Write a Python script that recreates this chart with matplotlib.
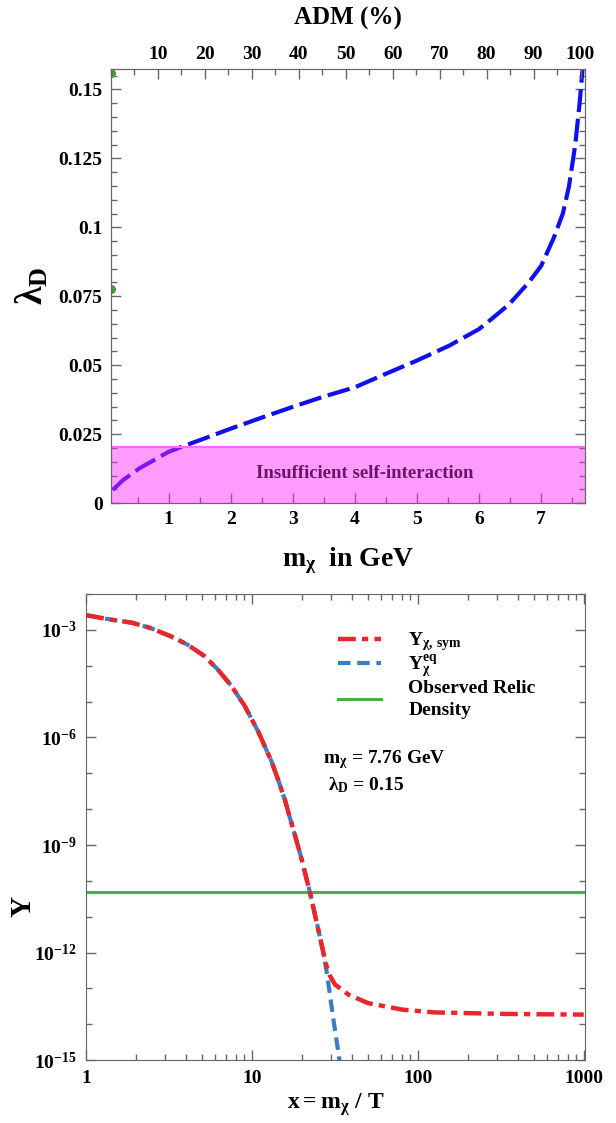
import numpy as np
import matplotlib.pyplot as plt
from matplotlib.ticker import FixedLocator, MultipleLocator, NullFormatter, LogLocator, FixedFormatter

plt.rcParams['font.family'] = ['Liberation Serif', 'DejaVu Serif']
plt.rcParams['font.weight'] = 'bold'
plt.rcParams['mathtext.fontset'] = 'custom'
plt.rcParams['mathtext.rm'] = 'Liberation Serif:bold'
plt.rcParams['mathtext.it'] = 'Liberation Serif:bold'
plt.rcParams['mathtext.bf'] = 'Liberation Serif:bold'

# ---- top panel: lambda_D vs m_chi ----
m_chi = [0.10, 0.27, 0.53, 1.0, 1.28, 1.5, 2.0, 2.5, 3.0, 3.48, 4.0, 4.5, 5.0,
         5.52, 6.0, 6.16, 6.48, 6.8, 7.0, 7.2, 7.35, 7.45, 7.55, 7.62, 7.67]
lam_d = [0.0048, 0.0084, 0.0126, 0.0186, 0.021, 0.0228, 0.027, 0.031, 0.0349,
         0.0385, 0.042, 0.0469, 0.0517, 0.0571, 0.0631, 0.066, 0.072, 0.080,
         0.086, 0.096, 0.105, 0.115, 0.130, 0.145, 0.158]
band_top = 0.0205
green_lam = [0.1558, 0.0778]
adm_ticks = [10, 20, 30, 40, 50, 60, 70, 80, 90, 100]
lam_ticks = [0, 0.025, 0.05, 0.075, 0.1, 0.125, 0.15]
lam_labels = ['0', '0.025', '0.05', '0.075', '0.1', '0.125', '0.15']

# ---- bottom panel: Y vs x ----
x_sym = [1.0, 1.4, 1.89, 2.45, 3.24, 4.08, 5.16, 6.2, 7.5, 9.0, 10.9, 13.1, 14.4,
         15.8, 16.8, 17.7, 19.9, 22.3, 24.5, 26.9, 28.2, 29.5, 31.6, 38, 50, 80,
         126, 203, 324, 500, 1000]
logY_sym = [-2.59, -2.71, -2.80, -2.95, -3.18, -3.41, -3.73, -4.10, -4.56, -5.11,
            -5.84, -6.67, -7.20, -7.75, -8.20, -8.55, -9.40, -10.31, -11.15,
            -12.0, -12.40, -12.65, -12.89, -13.17, -13.41, -13.59, -13.67,
            -13.69, -13.71, -13.72, -13.73]
x_eq = [1.0, 1.4, 1.89, 2.45, 3.24, 4.08, 5.16, 6.2, 7.5, 9.0, 10.9, 13.1, 14.4,
        15.8, 16.8, 17.7, 19.9, 22.3, 24.5, 26.9, 28.2, 30.9, 33.4, 35.0]
logY_eq = [-2.59, -2.71, -2.80, -2.95, -3.18, -3.41, -3.73, -4.10, -4.56, -5.11,
           -5.84, -6.67, -7.20, -7.75, -8.20, -8.55, -9.40, -10.31, -11.15,
           -12.0, -12.55, -13.85, -14.90, -15.6]
relic_Y = 4.9e-11
y_ticks = [1e-15, 1e-12, 1e-9, 1e-6, 1e-3]
y_labels = [r'$10^{-15}$', r'$10^{-12}$', r'$10^{-9}$', r'$10^{-6}$', r'$10^{-3}$']
x_ticks = [1, 10, 100, 1000]

spine_col = '#666666'

fig = plt.figure(figsize=(6.16, 11.23), dpi=100)

# top panel
ax1 = fig.add_axes([0.180, 0.552, 0.770, 0.387])
ax1.plot(m_chi, lam_d, color='#1010ee', lw=3.0, dashes=(5.5, 1.6),
         solid_capstyle='butt', zorder=2)
ax1.axhspan(0, band_top, color='#ff22ff', alpha=0.45, lw=0, zorder=3)
ax1.axhline(band_top, color='#ff66ff', lw=1.5, zorder=3)
ax1.text(4.16, 0.0109, 'Insufficient self-interaction', color='#6a1466',
         fontsize=13.5, fontweight='bold', ha='center', va='center', zorder=4)
ax1.scatter([0.07, 0.07], green_lam, s=30, color='#3f9b3f', zorder=5, clip_on=True)
ax1.set_xlim(0.07, 7.71)
ax1.set_ylim(0, 0.1576)
ax1.xaxis.set_major_locator(FixedLocator([1, 2, 3, 4, 5, 6, 7]))
ax1.xaxis.set_minor_locator(MultipleLocator(0.5))
ax1.yaxis.set_major_locator(FixedLocator(lam_ticks))
ax1.yaxis.set_major_formatter(FixedFormatter(lam_labels))
ax1.yaxis.set_minor_locator(MultipleLocator(0.005))
ax1.tick_params(which='both', direction='in', right=True, top=False,
                labelsize=14, color=spine_col, pad=6)
ax1.tick_params(which='major', length=7, width=1)
ax1.tick_params(which='minor', length=4, width=1)
ax1.set_xlabel(r'$\mathbf{m_{\chi}}$  in GeV', fontsize=20, fontweight='bold', labelpad=12)
ax1.set_ylabel(r'$\mathbf{\lambda_{D}}$', fontsize=27, labelpad=6)
for s in ax1.spines.values():
    s.set_color(spine_col)

ax1t = ax1.twiny()
ax1t.set_xlim(0, 101)
ax1t.xaxis.set_major_locator(FixedLocator(adm_ticks))
ax1t.xaxis.set_minor_locator(MultipleLocator(5))
ax1t.tick_params(which='both', direction='in', labelsize=14, color=spine_col, pad=4)
ax1t.tick_params(which='major', length=7, width=1)
ax1t.tick_params(which='minor', length=4, width=1)
for s in ax1t.spines.values():
    s.set_color(spine_col)
fig.text(0.565, 0.984, 'ADM (%)', fontsize=18, fontweight='bold', ha='center', va='center')

# bottom panel
ax2 = fig.add_axes([0.140, 0.056, 0.810, 0.415])
ax2.plot(x_eq, 10 ** np.array(logY_eq), color='#3a7fc2', lw=3.0, dashes=(3.0, 1.6),
         label=r'$\mathbf{Y_{\chi}^{eq}}$', zorder=2)
ax2.plot(x_sym, 10 ** np.array(logY_sym), color='#e8262b', lw=3.2,
         dashes=(4.0, 1.4, 1.4, 1.4), label=r'$\mathbf{Y_{\chi,\,sym}}$', zorder=3)
ax2.axhline(relic_Y, color='#4aae4a', lw=2.2, label='Observed Relic\nDensity', zorder=1)
ax2.set_xscale('log')
ax2.set_yscale('log')
ax2.set_xlim(1, 1020)
ax2.set_ylim(1e-15, 1e-2)
ax2.yaxis.set_major_locator(FixedLocator(y_ticks))
ax2.yaxis.set_major_formatter(FixedFormatter(y_labels))
ax2.yaxis.set_minor_locator(LogLocator(base=10, subs=(1.0,), numticks=30))
ax2.yaxis.set_minor_formatter(NullFormatter())
ax2.xaxis.set_major_locator(FixedLocator(x_ticks))
ax2.xaxis.set_major_formatter(FixedFormatter(['1', '10', '100', '1000']))
ax2.xaxis.set_minor_locator(LogLocator(base=10, subs=np.arange(2, 10), numticks=30))
ax2.xaxis.set_minor_formatter(NullFormatter())
ax2.tick_params(which='both', direction='in', right=True, top=True,
                labelsize=14, color=spine_col, pad=7)
ax2.tick_params(which='major', length=7, width=1)
ax2.tick_params(which='minor', length=4, width=1)
for s in ax2.spines.values():
    s.set_color(spine_col)
ax2.set_xlabel(r'$\mathbf{x = m_{\chi}\ /\ T}$', fontsize=17, labelpad=3)
ax2.set_ylabel('Y', fontsize=21, fontweight='bold', labelpad=4)
ax2.yaxis.set_label_coords(-0.1, 0.33)

h, l = ax2.get_legend_handles_labels()
order = [1, 0, 2]
leg = ax2.legend([h[i] for i in order], [l[i] for i in order], loc='upper left',
                 bbox_to_anchor=(0.47, 0.96), frameon=False, fontsize=14,
                 handlelength=2.2, handletextpad=1.4, labelspacing=0.02)
for t in leg.get_texts():
    t.set_linespacing(1.35)
ax2.text(0.475, 0.645, r'$\mathbf{m_{\chi}}$ = 7.76 GeV', transform=ax2.transAxes,
         fontsize=14, fontweight='bold', va='center')
ax2.text(0.485, 0.59, r'$\mathbf{\lambda_{D}}$ = 0.15', transform=ax2.transAxes,
         fontsize=14, fontweight='bold', va='center')

fig.savefig('out.png', dpi=100)
